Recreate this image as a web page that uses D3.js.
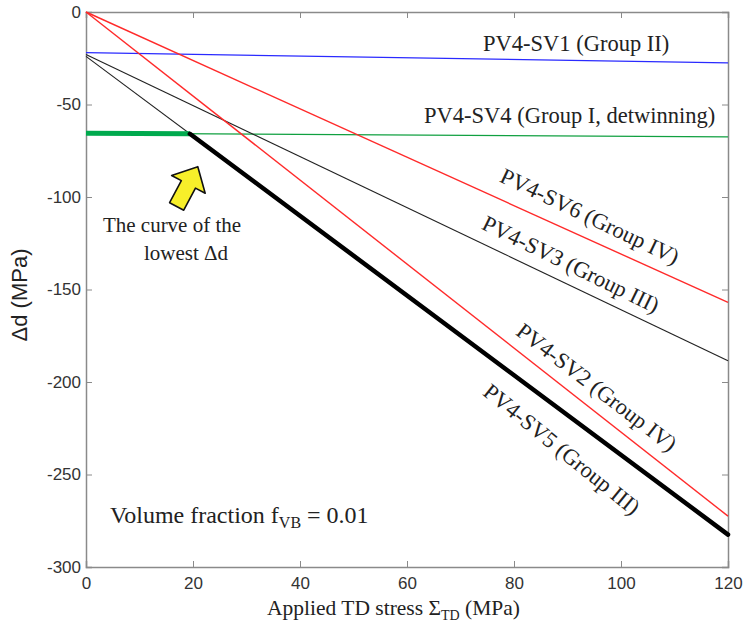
<!DOCTYPE html>
<html>
<head>
<meta charset="utf-8">
<script src="https://cdn.jsdelivr.net/npm/d3@7"></script>
<style>
  html, body { margin: 0; padding: 0; background: #fff; }
  svg { display: block; }
</style>
</head>
<body>
<svg id="chart" width="743" height="634"></svg>
<script>
// ---- data ----
const stressX = [0, 120];                 // applied TD stress (MPa)
const sv1 = [-22, -27.5];                 // PV4-SV1 (Group II)
const sv4 = [-65.5, -67.5];               // PV4-SV4 (Group I, detwinning)
const sv6 = [0, -157];                    // PV4-SV6 (Group IV)
const sv3 = [-23, -188.5];                // PV4-SV3 (Group III)
const sv2 = [0, -272.5];                  // PV4-SV2 (Group IV)
const sv5 = [-24, -282.5];                // PV4-SV5 (Group III)
const xTicks = [0, 20, 40, 60, 80, 100, 120];
const yTicks = [0, -50, -100, -150, -200, -250, -300];
const seriesNames = ["PV4-SV1 (Group II)", "PV4-SV4 (Group I, detwinning)", "PV4-SV6 (Group IV)",
                     "PV4-SV3 (Group III)", "PV4-SV2 (Group IV)", "PV4-SV5 (Group III)"];

const svg = d3.select("#chart");
const L = 86, R = 728, T = 12, B = 567;
const x = d3.scaleLinear().domain([0, 120]).range([L, R]);
const y = d3.scaleLinear().domain([-300, 0]).range([B, T]);

const axisColor = "#8a8a8a";
const tickTextColor = "#333";
const sans = "'Liberation Sans', Arial, sans-serif";
const serif = "'Liberation Serif', 'Times New Roman', serif";
const fmt = d => String(d);

// frame + ticks (MATLAB box style, inward ticks)
const gx = svg.append("g").attr("transform", `translate(0,${B})`)
  .call(d3.axisBottom(x).tickValues(xTicks).tickSize(-6).tickPadding(10).tickFormat(fmt));
const gxt = svg.append("g").attr("transform", `translate(0,${T})`)
  .call(d3.axisTop(x).tickValues(xTicks).tickSize(-6).tickFormat(""));
const gy = svg.append("g").attr("transform", `translate(${L},0)`)
  .call(d3.axisLeft(y).tickValues(yTicks).tickSize(-6).tickPadding(4).tickFormat(fmt));
const gyr = svg.append("g").attr("transform", `translate(${R},0)`)
  .call(d3.axisRight(y).tickValues(yTicks).tickSize(-6).tickFormat(""));
[gx, gxt, gy, gyr].forEach(g => {
  g.select(".domain").attr("stroke", axisColor).attr("stroke-width", 1.5);
  g.selectAll(".tick line").attr("stroke", axisColor).attr("stroke-width", 1);
  g.selectAll(".tick text").attr("fill", tickTextColor).style("font-family", sans).style("font-size", "17px");
});
// hide end ticks on frame corners
[gx, gxt].forEach(g => g.selectAll(".tick").filter(d => d === 0 || d === 120).select("line").remove());
[gy, gyr].forEach(g => g.selectAll(".tick").filter(d => d === 0 || d === -300).select("line").remove());
gy.selectAll(".tick text").attr("dx", "-1");

// series lines
const line = d3.line().x(d => x(d[0])).y(d => y(d[1]));
const toPts = vals => stressX.map((s, i) => [s, vals[i]]);
const series = [
  { vals: sv1, color: "#2a2aff", w: 1.3 },
  { vals: sv4, color: "#10a040", w: 1.3 },
  { vals: sv6, color: "#ff2a2a", w: 1.4 },
  { vals: sv3, color: "#222", w: 1.1 },
  { vals: sv2, color: "#ff2a2a", w: 1.4 },
  { vals: sv5, color: "#222", w: 1.1 },
];
svg.append("g").selectAll("path").data(series).join("path")
  .attr("d", d => line(toPts(d.vals)))
  .attr("fill", "none").attr("stroke", d => d.color).attr("stroke-width", d => d.w);

// lowest curve: SV4 until it meets SV5, then SV5
const slope4 = (sv4[1] - sv4[0]) / (stressX[1] - stressX[0]);
const slope5 = (sv5[1] - sv5[0]) / (stressX[1] - stressX[0]);
const xi = (sv5[0] - sv4[0]) / (slope4 - slope5);
const yi = sv4[0] + slope4 * xi;
svg.append("path").attr("d", line([[0, sv4[0]], [xi, yi]]))
  .attr("fill", "none").attr("stroke", "#00aa4e").attr("stroke-width", 5);
svg.append("path").attr("d", line([[xi, yi], [120, sv5[1]]]))
  .attr("fill", "none").attr("stroke", "#000").attr("stroke-width", 4.5).attr("stroke-linecap", "round");

// labels
const lab = svg.append("g").style("font-family", serif).style("font-size", "22.5px").attr("fill", "#222");
lab.append("text").attr("x", 483).attr("y", 51).text(seriesNames[0]);
lab.append("text").attr("x", 424).attr("y", 123).text(seriesNames[1]);
const rotLabel = (txt, cx, cy, ang) => lab.append("text")
  .attr("transform", `translate(${cx},${cy}) rotate(${ang})`)
  .attr("text-anchor", "middle").attr("dy", "0.35em").text(txt);
rotLabel(seriesNames[2], 590, 216, 25.5);
rotLabel(seriesNames[3], 571, 264, 26);
rotLabel(seriesNames[4], 597, 387, 37.5);
rotLabel(seriesNames[5], 562, 449, 39);

// annotation arrow
const arrowShape = [[0, -23], [19, -3], [8, -3], [8, 22], [-8, 22], [-8, -3], [-19, -3]];
svg.append("path")
  .attr("d", d3.line()(arrowShape) + "Z")
  .attr("transform", "translate(187,187) rotate(28)")
  .attr("fill", "#f7ef2a").attr("stroke", "#111").attr("stroke-width", 1.6).attr("stroke-linejoin", "round");
lab.append("text").attr("x", 172).attr("y", 232).attr("text-anchor", "middle").style("font-size", "21px").text("The curve of the");
lab.append("text").attr("x", 186).attr("y", 260).attr("text-anchor", "middle").style("font-size", "21px").text("lowest Δd");

// volume fraction note
const vf = lab.append("text").attr("x", 110).attr("y", 523).style("font-size", "24px");
vf.append("tspan").text("Volume fraction f");
vf.append("tspan").attr("dy", 5).style("font-size", "16px").text("VB");
vf.append("tspan").attr("dy", -5).text(" = 0.01");

// axis titles
const xt = svg.append("text").attr("x", 267).attr("y", 615)
  .style("font-family", serif).style("font-size", "21.5px").attr("fill", "#222");
xt.append("tspan").text("Applied TD stress Σ");
xt.append("tspan").attr("dy", 5).style("font-size", "14px").text("TD");
xt.append("tspan").attr("dy", -5).text(" (MPa)");

svg.append("text").attr("transform", "translate(27,295) rotate(-90)")
  .attr("text-anchor", "middle")
  .style("font-family", sans).style("font-size", "22px").attr("fill", "#222")
  .text("Δd (MPa)");
</script>
</body>
</html>
